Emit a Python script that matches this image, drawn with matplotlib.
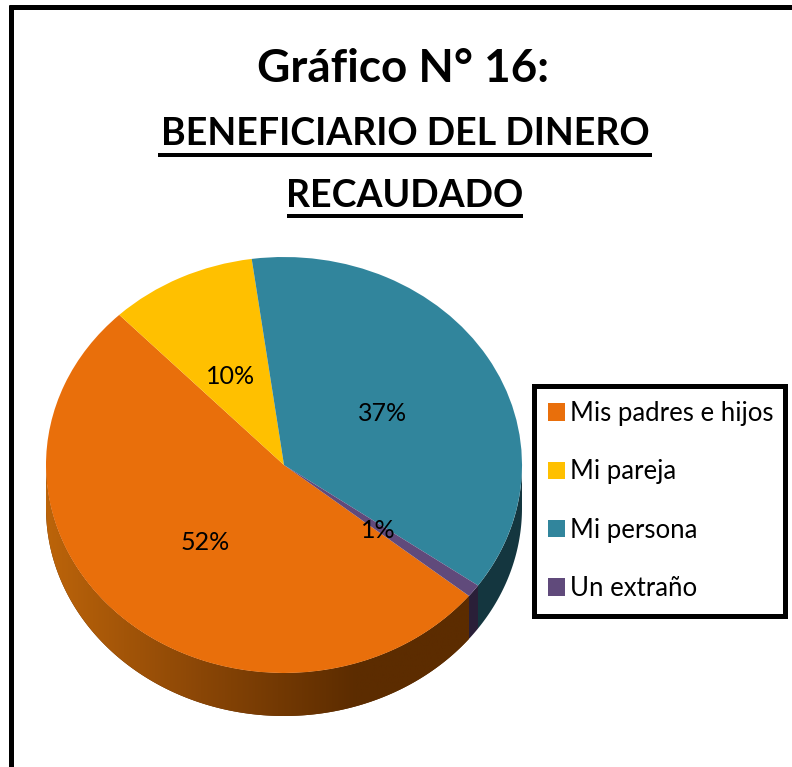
import numpy as np
import matplotlib
matplotlib.use("Agg")
import matplotlib.pyplot as plt
from matplotlib.colors import LinearSegmentedColormap
from matplotlib.lines import Line2D
from matplotlib.patches import Polygon

# data
categories = ["Mis padres e hijos", "Mi pareja", "Mi persona", "Un extraño"]
values = [52, 10, 37, 1]
pct_labels = ["52%", "10%", "37%", "1%"]
colors = ["#E96F0B", "#FFC000", "#31859C", "#604A7B"]
side_colors = ["#5C2C00", "#7F6000", "#14363F", "#2A1F38"]

# image size and pie geometry, in pixels of the reference
W, H = 792, 767
CX, CY, RX, RY, DEPTH = 284, 465, 238, 208, 43
START = -39
FONT = ["Lato", "DejaVu Sans"]


def fx(x):
    return x / W


def fy(y):
    return 1 - y / H


def ftext(x, y, s, **kw):
    fig.text(fx(x), fy(y), s, ha="center", va="center", family=FONT, **kw)


def fline(x0, y0, x1, y1, lw):
    fig.add_artist(Line2D([fx(x0), fx(x1)], [fy(y0), fy(y1)], color="black",
                          lw=lw * 0.72, solid_capstyle="butt"))


fig = plt.figure(figsize=(W / 100, H / 100), dpi=100)
ax = fig.add_axes([0, 0, 1, 1])

wedges, _ = ax.pie(values, colors=colors, startangle=START, counterclock=False,
                   radius=1, wedgeprops={"linewidth": 0})
for w in wedges:
    w.set_zorder(5)
ax.set_aspect("auto")

# side wall of the pie, one polygon for each visible slice
d = DEPTH / RY
angle = START
orange_poly = None
for i, v in enumerate(values):
    a0, a1 = angle, angle - v * 3.6
    angle = a1
    # slices past the -180 mark come round again on the right
    if a1 < -180 and i > 0:
        a0, a1 = a0 + 360, a1 + 360
    # only the front half of the wall can be seen
    t0 = min(a0, 0)
    t1 = max(a1, -180)
    if t1 >= t0:
        continue
    t = np.radians(np.linspace(t0, t1, 200))
    xs = np.cos(t)
    ys = np.sin(t)
    pts = np.r_[np.c_[xs, ys], np.c_[xs[::-1], ys[::-1] - d]]
    poly = Polygon(pts, closed=True, fc=side_colors[i], ec="none", zorder=2)
    ax.add_patch(poly)
    if i == 0:
        orange_poly = poly

# left part of the orange wall fades to the lit edge
cmap = LinearSegmentedColormap.from_list("wall", ["#BC640A", "#8A4606", "#5C2C00", "#5C2C00"])
grad = np.linspace(0, 1, 256).reshape(1, -1)
im = ax.imshow(grad, cmap=cmap, aspect="auto", extent=(-1, 0.95, -1.3, 0.2), zorder=3)
im.set_clip_path(orange_poly)

ax.set_xlim(-CX / RX, (W - CX) / RX)
ax.set_ylim((CY - H) / RY, CY / RY)
ax.axis("off")

# percent labels
pct_pos = [(205, 543), (231, 377), (383, 414), (378, 531)]
for (x, y), s in zip(pct_pos, pct_labels):
    ftext(x, y, s, fontsize=18, color="black", zorder=10)

# titles
ftext(403, 69, "Gráfico N° 16:", fontsize=33, fontweight="bold")
ftext(405, 134, "BENEFICIARIO DEL DINERO", fontsize=27, fontweight="bold")
ftext(405, 196, "RECAUDADO", fontsize=27, fontweight="bold")
fline(158, 155, 652, 155, 4)
fline(287, 216, 523, 216, 4)

# outer border, open on the right and at the bottom
fline(11, 5, 11, H, 5)
fline(9, 7, W, 7, 5)

# legend
leg = fig.legend(wedges, categories, loc="upper left",
                 bbox_to_anchor=(fx(533.5), fy(386), fx(785) - fx(533.5), 0), mode="expand",
                 borderaxespad=0, prop={"family": FONT, "size": 18.5},
                 handlelength=0.66, handleheight=0.66, handletextpad=0.18,
                 labelspacing=1.3, borderpad=0.58, fancybox=False, framealpha=1,
                 edgecolor="black")
leg.get_frame().set_linewidth(3.6)

fig.savefig("out.png", dpi=100)
